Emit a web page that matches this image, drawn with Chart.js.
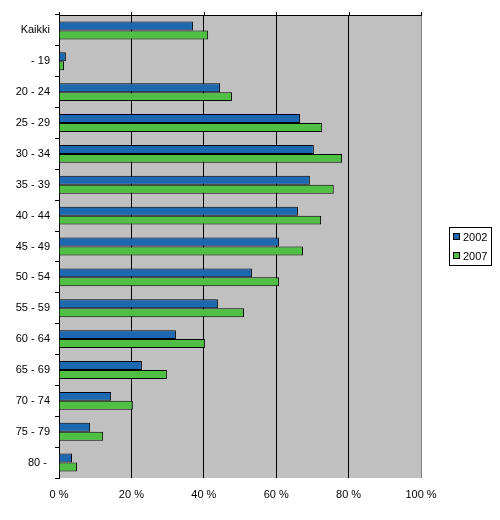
<!DOCTYPE html>
<html>
<head>
<meta charset="utf-8">
<script src="https://cdn.jsdelivr.net/npm/chart.js@4"></script>
<style>
  body { margin: 0; background: #fff; }
</style>
</head>
<body>
<canvas id="chart" width="500" height="520"></canvas>
<script>
// age groups, top to bottom
const categories = ['Kaikki', ' - 19', '20 - 24', '25 - 29', '30 - 34', '35 - 39', '40 - 44',
    '45 - 49', '50 - 54', '55 - 59', '60 - 64', '65 - 69', '70 - 74', '75 - 79', '80 - '];
const seriesNames = ['2002', '2007'];
const values2002 = [37.0, 1.9, 44.5, 66.6, 70.4, 69.3, 66.0, 60.8, 53.3, 43.9, 32.3, 22.9, 14.4, 8.6, 3.6];
const values2007 = [41.2, 1.4, 47.8, 72.7, 78.2, 75.9, 72.4, 67.4, 60.8, 51.1, 40.3, 29.8, 20.4, 12.2, 5.0];
const xTicks = [0, 20, 40, 60, 80, 100];

const FONT = { family: '"Liberation Sans", Arial, sans-serif', size: 11 };

// grey plot area, top axis line with ticks, grey right border
const plotFrame = {
    id: 'plotFrame',
    beforeDraw(chart) {
        const { ctx, chartArea: a } = chart;
        ctx.save();
        ctx.fillStyle = '#C0C0C0';
        ctx.fillRect(a.left, a.top, a.right - a.left, a.bottom - a.top);
        ctx.restore();
    },
    afterDatasetsDraw(chart) {
        const { ctx, chartArea: a } = chart;
        const x = chart.scales.x;
        ctx.save();
        ctx.strokeStyle = '#808080';
        ctx.lineWidth = 1;
        ctx.beginPath();
        ctx.moveTo(a.right + 0.5, a.top);
        ctx.lineTo(a.right + 0.5, a.bottom);
        ctx.stroke();
        ctx.strokeStyle = '#000';
        ctx.beginPath();
        ctx.moveTo(a.left, a.top + 0.5);
        ctx.lineTo(a.right + 1, a.top + 0.5);
        xTicks.forEach(v => {
            const px = Math.round(x.getPixelForValue(v)) + 0.5;
            ctx.moveTo(px, a.top + 0.5);
            ctx.lineTo(px, a.top - 3);
        });
        ctx.stroke();
        ctx.restore();
    }
};

// boxed legend to the right of the plot
const boxLegend = {
    id: 'boxLegend',
    afterDraw(chart) {
        const { ctx } = chart;
        const left = 449, top = 227, w = 42, h = 38;
        ctx.save();
        ctx.fillStyle = '#fff';
        ctx.fillRect(left, top, w, h);
        ctx.strokeStyle = '#000';
        ctx.lineWidth = 1;
        ctx.strokeRect(left + 0.5, top + 0.5, w, h);
        ctx.font = `${FONT.size}px ${FONT.family}`;
        ctx.textBaseline = 'middle';
        chart.data.datasets.forEach((ds, i) => {
            const cy = top + 10 + i * 19;
            ctx.fillStyle = ds.backgroundColor;
            ctx.fillRect(left + 4.5, cy - 3.5, 6, 6);
            ctx.strokeRect(left + 4.5, cy - 3.5, 6, 6);
            ctx.fillStyle = '#000';
            ctx.fillText(ds.label, left + 14, cy + 0.5);
        });
        ctx.restore();
    }
};

new Chart(document.getElementById('chart').getContext('2d'), {
    type: 'bar',
    data: {
        labels: categories,
        datasets: [{
            label: seriesNames[0],
            data: values2002,
            backgroundColor: '#1C69B2',
            borderColor: '#000',
            borderWidth: 1
        }, {
            label: seriesNames[1],
            data: values2007,
            backgroundColor: '#50C045',
            borderColor: '#000',
            borderWidth: 1
        }]
    },
    options: {
        indexAxis: 'y',
        responsive: false,
        animation: false,
        devicePixelRatio: 1,
        categoryPercentage: 0.58,
        barPercentage: 1,
        layout: { padding: { top: 15, right: 79, bottom: 0, left: 0 } },
        scales: {
            x: {
                min: 0,
                max: 100,
                afterBuildTicks: axis => { axis.ticks = xTicks.map(v => ({ value: v })); },
                afterFit: axis => { axis.height = 42; },
                border: { display: false },
                grid: {
                    color: ctx => (ctx.tick && ctx.tick.value === 100) ? '#808080' : '#000',
                    drawTicks: false
                },
                ticks: {
                    color: '#000',
                    font: FONT,
                    padding: 10,
                    maxRotation: 0,
                    callback: v => `${v} %`
                }
            },
            y: {
                afterFit: axis => { axis.width = 59; },
                border: { display: true, color: '#000' },
                grid: {
                    offset: true,
                    drawOnChartArea: false,
                    color: '#000',
                    tickLength: 4
                },
                ticks: { color: '#000', font: FONT, padding: 5 }
            }
        },
        plugins: {
            legend: { display: false },
            tooltip: { enabled: false }
        }
    },
    plugins: [plotFrame, boxLegend]
});
</script>
</body>
</html>
